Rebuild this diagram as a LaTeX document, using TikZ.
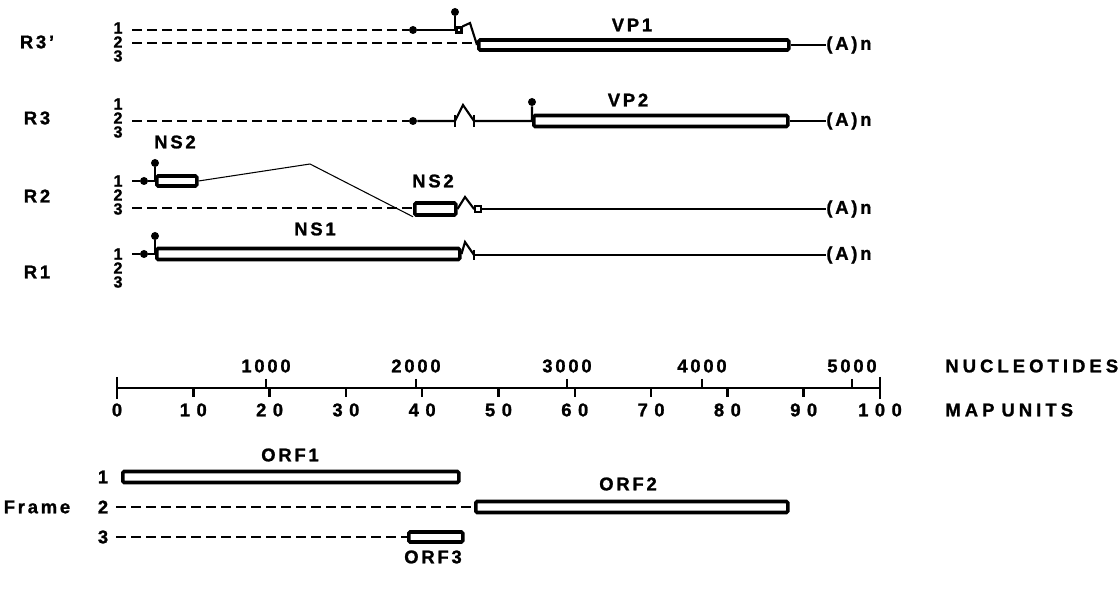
\documentclass[tikz,border=0pt]{standalone}
\usepackage{fontspec}
\setmainfont{Liberation Sans}[LetterSpace=15, BoldFeatures={FakeBold=1.2}]
\usetikzlibrary{positioning}
\newlength\px
\setlength\px{0.02cm}

\tikzset{
  gene/.style={draw, line width=2pt, fill=white, rounded corners=0.8pt, inner sep=0pt, anchor=west},
  capdot/.style={circle, fill, inner sep=0pt, minimum size=8*\px},
  stopsq/.style={draw, line width=1.2pt, fill=white, inner sep=0pt, minimum size=5*\px},
  rna/.style={line width=1.2pt},
  splice/.style={line width=0.6pt},
  frame line/.style={line width=0.7pt, dash pattern=on 10\px off 5\px},
  axtick/.style={line width=1.4pt},
  lbl/.style={font=\bfseries\fontsize{10.5}{12}\selectfont, inner sep=0pt},
  digit/.style={font=\bfseries\fontsize{9.2}{10}\selectfont, inner sep=0pt},
  tail/.style={lbl, anchor=west},
  unitlbl/.style={lbl, anchor=west, font=\bfseries\fontsize{10.5}{12}\selectfont\addfontfeatures{LetterSpace=22}}
}

\begin{document}
\begin{tikzpicture}[x=0.02cm, y=-0.02cm]
  \useasboundingbox (0,0) rectangle (1119,594);

  % R3'
  \node[lbl] (r3p) at (37,42) {R3'};
  \node[digit] (r3p1) at (118,28) {1};
  \node[digit] (r3p2) at (118,42) {2};
  \node[digit] (r3p3) at (118,56) {3};
  \coordinate (r3pa) at (132,30);
  \coordinate (r3pb) at (132,43);
  \node[capdot] (r3pcap) at (413,30) {};
  \coordinate (r3pstem) at (455,30);
  \node[capdot] (r3ptop) at (455,12) {};
  \node[stopsq] (r3psq) at (459,30) {};
  \coordinate (r3ppeak) at (470,23);
  \node[gene, minimum width=310*\px, minimum height=10*\px] (vp1) at (477,45) {};
  \node[lbl] (vp1lbl) at (632,25) {VP1};
  \node[tail] (r3pan) at (826,45) {(A)n};
  \draw[frame line] (r3pa) -- (r3pcap);
  \draw[frame line] (r3pb) -- (r3pb -| vp1.west);
  \draw[rna] (r3pcap) -- (r3pstem) -- (r3ptop);
  \draw[rna] (r3psq.north east) -- (r3ppeak) -- (vp1.west);
  \draw[rna] (vp1.east) -- (r3pan.west);

  % R3
  \node[lbl] (r3) at (37,118) {R3};
  \node[digit] (r31) at (118,104) {1};
  \node[digit] (r32) at (118,118) {2};
  \node[digit] (r33) at (118,132) {3};
  \coordinate (r3a) at (132,121);
  \node[capdot] (r3cap) at (413,121) {};
  \coordinate (r3z1) at (455,121);
  \coordinate (r3z2) at (463,105);
  \coordinate (r3z3) at (474,121);
  \coordinate (r3stem) at (532,121);
  \node[capdot] (r3top) at (532,102) {};
  \node[gene, minimum width=254*\px, minimum height=11*\px] (vp2) at (532,121) {};
  \node[lbl] (vp2lbl) at (628,100) {VP2};
  \node[tail] (r3an) at (826,121) {(A)n};
  \draw[frame line] (r3a) -- (r3cap);
  \draw[rna] (r3cap) -- (r3z1) -- (r3z2) -- (r3z3) -- (r3stem) -- (r3top);
  \draw[rna] (r3z1) ++(0,-6) -- ++(0,12);
  \draw[rna] (r3z3) ++(0,-6) -- ++(0,12);
  \draw[rna] (vp2.east) -- (r3an.west);

  % R2
  \node[lbl] (r2) at (37,196) {R2};
  \node[digit] (r21) at (118,181) {1};
  \node[digit] (r22) at (118,195) {2};
  \node[digit] (r23) at (118,209) {3};
  \coordinate (r2a) at (132,181);
  \coordinate (r2c) at (132,208);
  \node[capdot] (r2cap) at (144,181) {};
  \coordinate (r2stem) at (155,181);
  \node[capdot] (r2top) at (155,163) {};
  \node[gene, minimum width=40*\px, minimum height=10*\px] (ns2a) at (155,181) {};
  \node[lbl] (ns2albl) at (175,142) {NS2};
  \coordinate (r2peak) at (310,164);
  \node[gene, minimum width=41*\px, minimum height=12*\px] (ns2b) at (413,209) {};
  \node[lbl] (ns2blbl) at (433,181) {NS2};
  \coordinate (r2z2) at (465,197);
  \coordinate (r2z3) at (474,209);
  \node[stopsq, minimum size=6*\px] (r2sq) at (478,209) {};
  \node[tail] (r2an) at (826,209) {(A)n};
  \draw[frame line] (r2a) -- (r2cap);
  \draw[rna] (r2cap) -- (r2stem) -- (r2top);
  \draw[splice] (ns2a.east) -- (r2peak) -- (ns2b.south west);
  \draw[frame line] (r2c) -- (r2c -| ns2b.west);
  \draw[rna] (ns2b.east) -- (r2z2) -- (r2z3) -- (r2sq.west);
  \draw[rna] (r2sq.east) -- (r2an.west);

  % R1
  \node[lbl] (r1) at (37,272) {R1};
  \node[digit] (r11) at (118,254) {1};
  \node[digit] (r12) at (118,268) {2};
  \node[digit] (r13) at (118,282) {3};
  \coordinate (r1a) at (132,254);
  \node[capdot] (r1cap) at (144,254) {};
  \coordinate (r1stem) at (155,254);
  \node[capdot] (r1top) at (155,236) {};
  \node[gene, minimum width=303*\px, minimum height=11*\px] (ns1) at (155,254) {};
  \node[lbl] (ns1lbl) at (315,229) {NS1};
  \coordinate (r1z2) at (465,242);
  \coordinate (r1z3) at (474,255);
  \node[tail] (r1an) at (826,255) {(A)n};
  \draw[frame line] (r1a) -- (r1cap);
  \draw[rna] (r1cap) -- (r1stem) -- (r1top);
  \draw[rna] (ns1.east) -- (r1z2) -- (r1z3);
  \draw[rna] (r1z3) ++(0,-5) -- ++(0,10);
  \draw[rna] (r1z3) -- (r1an.west);

  % scale
  \coordinate (ax0) at (117,388);
  \coordinate (ax1) at (880,388);
  \draw[axtick] (ax0) -- (ax1);
  \draw[axtick] (ax0) ++(0,-11) -- ++(0,22);
  \draw[axtick] (ax1) ++(0,-11) -- ++(0,22);
  \foreach \m in {10,20,...,90}
    \draw[axtick] ({117+7.63*\m},388) -- ++(0,9);
  \foreach \m in {0,10,...,100}
    \node[lbl, font=\bfseries\fontsize{10.5}{12}\selectfont\addfontfeatures{LetterSpace=35}] (mu\m) at ({117+7.63*\m},410) {\m};
  \foreach \n/\x in {1000/266,2000/416,3000/567,4000/702,5000/852} {
    \draw[axtick] (\x,379) -- (\x,388);
    \node[lbl] (nt\n) at (\x,366) {\n};
  }
  \node[unitlbl] (ntlbl) at (945,366) {NUCLEOTIDES};
  \node[unitlbl] (mulbl) at (945,410) {MAP\hspace{4pt}UNITS};

  % open reading frames
  \node[lbl] (frame) at (37,507) {Frame};
  \node[lbl] (f1) at (103,477) {1};
  \node[lbl] (f2) at (103,507) {2};
  \node[lbl] (f3) at (103,537) {3};
  \coordinate (f2a) at (116,507);
  \coordinate (f3a) at (116,537);
  \node[gene, minimum width=336*\px, minimum height=11*\px] (orf1) at (121,477) {};
  \node[gene, minimum width=312*\px, minimum height=11*\px] (orf2) at (474,507) {};
  \node[gene, minimum width=54*\px, minimum height=10*\px] (orf3) at (407,537) {};
  \node[lbl] (orf1lbl) at (290,455) {ORF1};
  \node[lbl] (orf2lbl) at (628,484) {ORF2};
  \node[lbl] (orf3lbl) at (433,557) {ORF3};
  \draw[frame line] (f2a) -- (orf2.west);
  \draw[frame line] (f3a) -- (orf3.west);
\end{tikzpicture}
\end{document}
